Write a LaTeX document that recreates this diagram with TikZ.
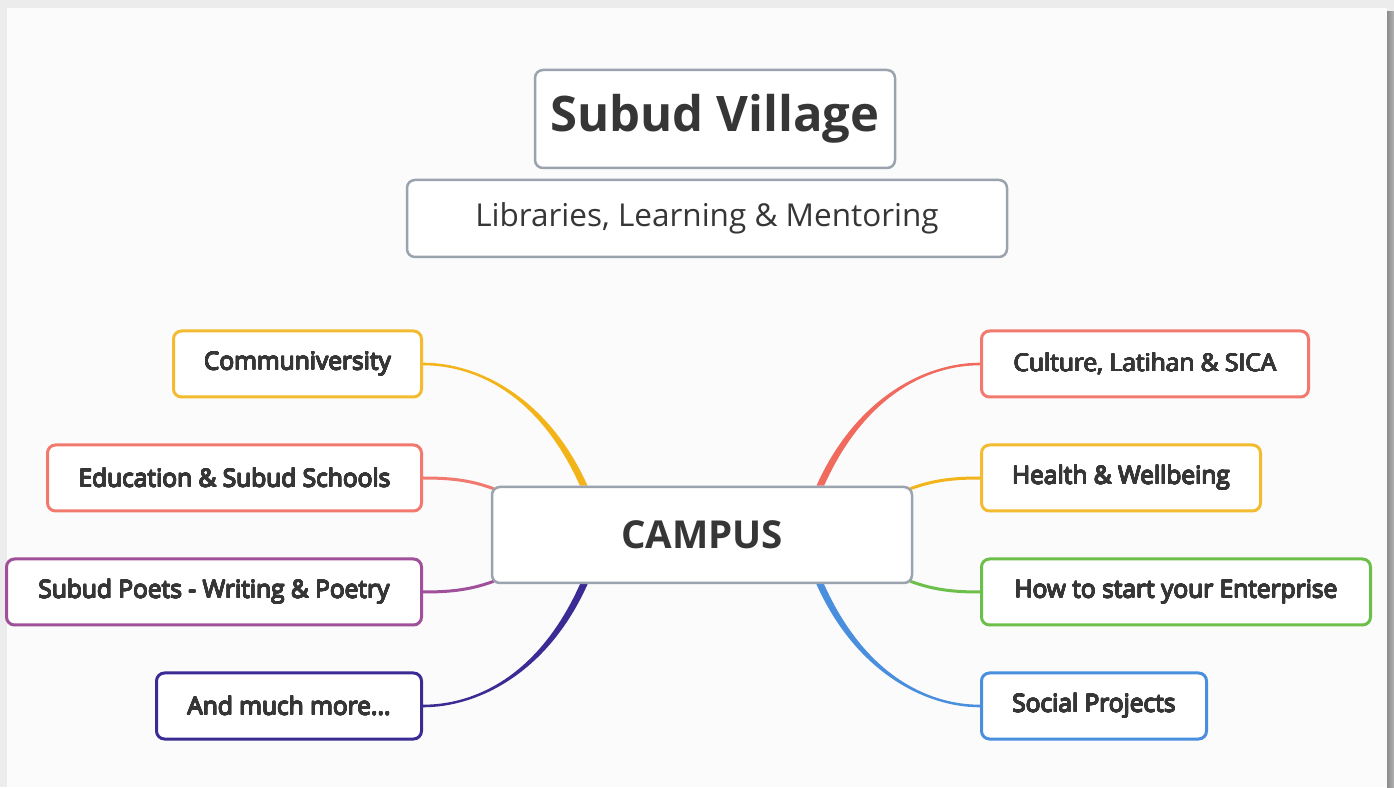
\documentclass[tikz,border=0pt]{standalone}
\usepackage{fontspec}
\setmainfont{Open Sans}
\usepackage[copies]{contour}
\contourlength{0.45pt}
\contournumber{16}
\usepackage{tikz}
\usetikzlibrary{calc}
\usetikzlibrary{backgrounds}

\definecolor{inkgray}{HTML}{363636}
\definecolor{framegray}{HTML}{9AA3AE}
\definecolor{paper}{HTML}{FBFBFB}
\definecolor{outside}{HTML}{ECECEC}
\definecolor{mmorange}{HTML}{F2B418}
\definecolor{mmred}{HTML}{F06A5E}
\definecolor{mmpurple}{HTML}{A0509A}
\definecolor{mmindigo}{HTML}{3A2C94}
\definecolor{mmgreen}{HTML}{6CC04A}
\definecolor{mmblue}{HTML}{4A8FDD}

% semi-bold look for the leaf labels
\newcommand{\semi}[1]{\contour{inkgray}{#1}}

% tapered branch: colour, start, control 1, control 2, end, start offset, end offset
\newcommand{\taper}[7]{%
  \fill[#1] ($(#2)+(#6)$) .. controls ($(#3)+(#6)$) and ($(#4)+(#7)$) .. ($(#5)+(#7)$)
    -- ($(#5)-(#7)$) .. controls ($(#4)-(#7)$) and ($(#3)-(#6)$) .. ($(#2)-(#6)$) -- cycle;}

\tikzset{
  box/.style={draw, rounded corners=8pt, fill=white, inner sep=0pt, text=inkgray},
  grayframe/.style={box, draw=framegray, line width=2.5pt},
  leaf/.style={box, draw=#1, line width=3pt, minimum height=66pt, font=\fontsize{24.5}{28}\selectfont},
  twig/.style={line width=3pt, #1}
}

\begin{document}
\begin{tikzpicture}[x=1pt,y=1pt]
    \useasboundingbox (0,0) rectangle (1394,787);

    % title and subtitle
    \node[grayframe, minimum width=360pt, minimum height=98pt, font=\bfseries\fontsize{49}{56}\selectfont] (title) at (715,668) {Subud Village};
    \node[grayframe, minimum width=600pt, minimum height=77pt, font=\fontsize{31.5}{36}\selectfont] (sub) at (707,568.5) {Libraries, Learning \& Mentoring};

    % centre
    \node[grayframe, minimum width=420pt, minimum height=96pt, font=\bfseries\fontsize{38.5}{44}\selectfont] (campus) at (702,252) {CAMPUS};

    % left leaves
    \node[leaf=mmorange!90, anchor=east, minimum width=248pt] (comm) at (423,423) {\semi{Communiversity}};
    \node[leaf=mmred!90, anchor=east, minimum width=374pt] (edu) at (423,309) {\semi{Education \& Subud Schools}};
    \node[leaf=mmpurple, anchor=east, minimum width=415pt] (poets) at (423,195) {\semi{Subud Poets - Writing \& Poetry}};
    \node[leaf=mmindigo, anchor=east, minimum width=265pt] (more) at (423,81) {\semi{And much more...}};

    % right leaves
    \node[leaf=mmred!90, anchor=west, minimum width=327pt] (culture) at (980,423) {\semi{Culture, Latihan \& SICA}};
    \node[leaf=mmorange!90, anchor=west, minimum width=279pt] (health) at (980,309) {\semi{Health \& Wellbeing}};
    \node[leaf=mmgreen, anchor=west, minimum width=389pt] (enter) at (980,195) {\semi{How to start your Enterprise}};
    \node[leaf=mmblue, anchor=west, minimum width=225pt] (social) at (980,81) {\semi{Social Projects}};

    \coordinate (ul) at ($(campus.north west)+(93,0)$);
    \coordinate (ur) at ($(campus.north east)+(-93,0)$);
    \coordinate (dl) at ($(campus.south west)+(93,0)$);
    \coordinate (dr) at ($(campus.south east)+(-93,0)$);

    \begin{pgfonlayer}{background}
    \fill[outside] (0,0) rectangle (1394,787);
    \fill[paper] (7,0) rectangle (1387,779);
    \shade[left color=gray!90, right color=gray!60] (1387,0) rectangle (1394,775);

    % curved branches
    \taper{mmorange}{ul}{544,390}{478,423}{comm.east}{3.8,0}{0,1.3};
    \taper{mmindigo}{dl}{544,114}{478,81}{more.east}{-3.8,0}{0,1.3};
    \taper{mmred}{ur}{860,390}{926,423}{culture.west}{3.8,0}{0,-1.3};
    \taper{mmblue}{dr}{860,114}{926,81}{social.west}{-3.8,0}{0,-1.3};

    % short branches
    \draw[twig=mmred!90] ($(campus.north west)+(3,-3)$) .. controls (470,307) and (450,309) .. (edu.east);
    \draw[twig=mmpurple] ($(campus.south west)+(3,3)$) .. controls (470,197) and (450,195) .. (poets.east);
    \draw[twig=mmorange] ($(campus.north east)+(-3,-3)$) .. controls (934,307) and (954,309) .. (health.west);
    \draw[twig=mmgreen] ($(campus.south east)+(-3,3)$) .. controls (934,197) and (954,195) .. (enter.west);
    \end{pgfonlayer}
\end{tikzpicture}
\end{document}
